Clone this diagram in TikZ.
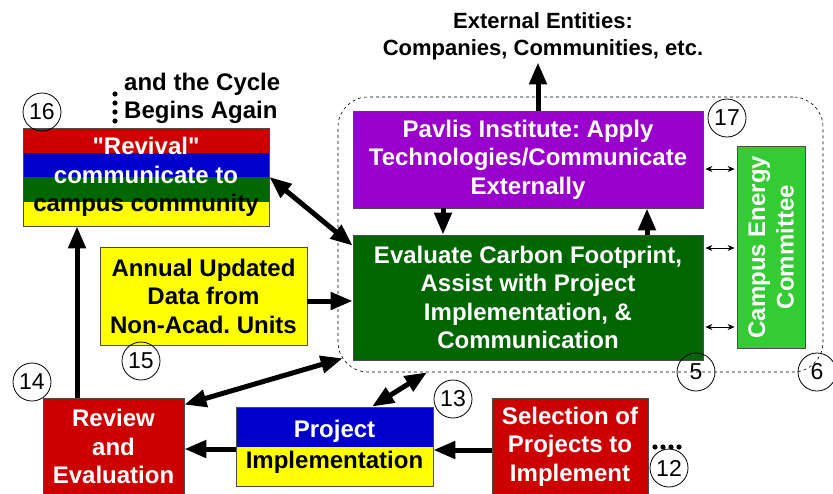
\documentclass[tikz,border=0pt]{standalone}
\usepackage{fontspec}
\setmainfont{Liberation Sans}
\newfontfamily\qfont{Liberation Sans}
\usetikzlibrary{arrows.meta,calc,positioning}
\frenchspacing
\definecolor{cred}{HTML}{CC0000}
\definecolor{cblue}{HTML}{0000CC}
\definecolor{cgreen}{HTML}{006600}
\definecolor{cyellow}{HTML}{FFFF00}
\definecolor{cpurple}{HTML}{9900CC}
\definecolor{clime}{HTML}{33CC33}
\tikzset{
  box/.style={draw=black!70, line width=0.8pt, inner sep=0pt, align=center,
    font=\bfseries\fontsize{24}{28.5}\selectfont},
  stripes/.style 2 args={
    path picture={
      \foreach \c [count=\i from 0] in {#2}
        \fill[\c] ($(path picture bounding box.north west)!\i/#1!(path picture bounding box.south west)$)
          rectangle ($(path picture bounding box.north east)!{(\i+1)/#1}!(path picture bounding box.south east)$);
    }
  },
  num/.style={draw, circle, line width=0.8pt, minimum size=38pt, inner sep=0pt,
    font=\fontsize{23}{23}\selectfont},
  big/.style={line width=5pt, -{Triangle[length=22pt,width=17pt]}},
  big2/.style={line width=5pt, {Triangle[length=22pt,width=17pt]}-{Triangle[length=22pt,width=17pt]}},
  thin2/.style={line width=0.8pt, shorten <=2pt, shorten >=2pt,
    {Stealth[length=7pt,width=6pt]}-{Stealth[length=7pt,width=6pt]}}
}

\begin{document}
\begin{tikzpicture}[x=1pt,y=-1pt]
  \useasboundingbox (0,0) rectangle (833,493);

  % dashed group round the institute
  \node[draw, dashed, line width=0.6pt, rounded corners=30pt,
    minimum width=485pt, minimum height=275pt] (grp) at (580.5,234.5) {};

  \node[box, fill=cpurple, text=white, minimum width=350pt, minimum height=97pt]
    (pav) at (528,159.5) {Pavlis Institute: Apply\\Technologies/Communicate\\Externally};
  \node[box, fill=cgreen, text=white, minimum width=350pt, minimum height=125pt]
    (eva) at (528,297.5) {Evaluate Carbon Footprint,\\Assist with Project\\Implementation, \&\\Communication};
  \node[box, fill=clime, minimum width=68pt, minimum height=202pt] (cec) at (771,247) {};
  \node[rotate=90, align=center, text=white, inner sep=0pt,
    font=\bfseries\fontsize{24}{28.5}\selectfont] (cectxt) at (cec) {Campus Energy\\Committee};

  \node[align=center, inner sep=0pt, inner ysep=2pt, font=\bfseries\fontsize{22}{27}\selectfont]
    (ext) at (543,36.5) {External Entities:\\Companies, Communities, etc.};

  \node[box, stripes={4}{cred,cblue,cgreen,cyellow}, minimum width=246pt, minimum height=98pt]
    (rev) at (146,177) {\textcolor{white}{{\qfont"}Revival{\qfont"}}\\\textcolor{white}{communicate to}\\campus community};
  \node[anchor=west, align=left, inner sep=0pt, font=\bfseries\fontsize{24}{28}\selectfont]
    (again) at (124,98) {and the Cycle\\Begins Again};
  \foreach \y in {94,103,112,121}
    \fill (115,\y) circle (2.6pt);

  \node[box, fill=cyellow, minimum width=207pt, minimum height=98pt]
    (ann) at (203.5,296) {Annual Updated\\Data from\\Non-Acad. Units};

  \node[box, fill=cred, text=white, minimum width=141pt, minimum height=97pt]
    (revw) at (113.5,446.5) {Review\\and\\Evaluation};
  \node[box, stripes={2}{cblue,cyellow}, minimum width=197pt, minimum height=79pt]
    (proj) at (334.5,446.5) {\textcolor{white}{Project}\\[2.5pt]Implementation};
  \node[box, fill=cred, text=white, minimum width=156pt, minimum height=97pt]
    (sel) at (570,446.5) {Selection of\\Projects to\\Implement};
  \foreach \x in {655,663,671,679}
    \fill (\x,447) circle (2.6pt);

  % arrows
  \draw[big] ([xshift=10pt]pav.north) -- ([xshift=-5pt]ext.south);
  \draw[big] ([xshift=-85pt]pav.south) -- ([xshift=-85pt]eva.north);
  \draw[big] ([xshift=119pt]eva.north) -- ([xshift=119pt]pav.south);
  \draw[thin2] ([yshift=-9.5pt]pav.east) -- ([yshift=78pt]cec.west);
  \draw[thin2] ([yshift=49.5pt]eva.east) -- ([yshift=-1pt]cec.west);
  \draw[thin2] ([yshift=-29.5pt]eva.east) -- ([yshift=-80pt]cec.west);
  \draw[big] ([yshift=-5pt]ann.east) -- ([yshift=-3.5pt]eva.west);
  \draw[big2] (rev.east) -- ([yshift=-11pt]eva.north west);
  \draw[big] ([xshift=-36.5pt]revw.north) -- ([xshift=-69pt]rev.south);
  \coordinate (gcorner) at ([xshift=5pt,yshift=14pt]grp.south west);
  \draw[big2] ([yshift=-7pt]revw.north east) -- (gcorner);
  \draw[big2] ([xshift=37.5pt]proj.north) -- ([xshift=-153.5pt]grp.south);
  \draw[big] ([yshift=-2.5pt]proj.west) -- ([yshift=-2.5pt]revw.east);
  \draw[big] ([yshift=-3.5pt]sel.west) -- ([yshift=-3.5pt]proj.east);

  % step numbers
  \node[num] (n16) at (42,112) {16};
  \node[num] (n17) at (727,118) {17};
  \node[num] (n15) at (141,361) {15};
  \node[num] (n14) at (32,382) {14};
  \node[num] (n13) at (453,399) {13};
  \node[num] (n12) at (669,468) {12};
  \node[num] (n5) at (696,372) {5};
  \node[num] (n6) at (817,372) {6};
\end{tikzpicture}
\end{document}
